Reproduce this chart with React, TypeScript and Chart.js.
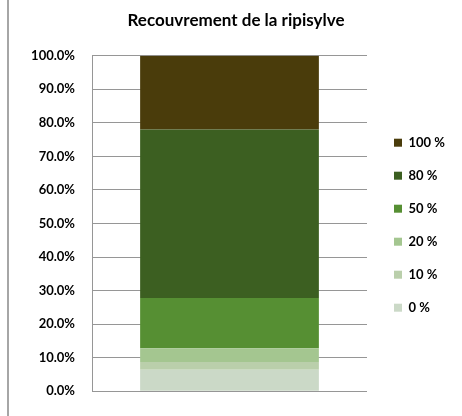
import React, { useEffect, useRef } from "react";
import { Chart, registerables } from "chart.js";

Chart.register(...registerables);

const categories = [""];
const seriesNames = ["0 %", "10 %", "20 %", "50 %", "80 %", "100 %"];
const seriesValues = [[6.4], [2.3], [4.1], [15.0], [50.2], [22.0]];
const seriesColors = ["#cbd9c7", "#bacfab", "#a4c690", "#568f33", "#3c5f21", "#4a3c0b"];
const yTicks = { min: 0, max: 100, step: 10 };
const titleText = "Recouvrement de la ripisylve";

export default function App() {
  const ref = useRef<HTMLCanvasElement>(null);
  useEffect(() => {
    if (!ref.current) return;
    Chart.defaults.font.family = "Lato";
    Chart.defaults.color = "#000";
    const chart = new Chart(ref.current, {
      type: "bar",
      data: {
        labels: categories,
        datasets: seriesNames.map((name, i) => ({
          label: name,
          data: seriesValues[i],
          backgroundColor: seriesColors[i],
          borderWidth: 0,
          categoryPercentage: 1,
          barPercentage: 0.65,
        })),
      },
      options: {
        responsive: false,
        animation: false,
        layout: { padding: { left: 20, right: 10, top: 0, bottom: 22 } },
        scales: {
          x: { stacked: true, display: false },
          y: {
            stacked: true,
            min: yTicks.min,
            max: yTicks.max,
            grid: { color: "#969696", lineWidth: 1, drawTicks: false },
            border: { display: true, color: "#969696", width: 1 },
            ticks: {
              stepSize: yTicks.step,
              padding: 17,
              color: "#000",
              font: { size: 13, weight: "bold" },
              callback: (v: any) => Number(v).toFixed(1) + "%",
            },
            afterFit: (s: any) => {
              s.width = 72;
            },
          },
          yR: {
            position: "right",
            display: true,
            grid: { display: false },
            border: { display: false },
            ticks: { display: false },
            afterFit: (s: any) => {
              s.width = 7;
            },
          },
        },
        plugins: {
          tooltip: { enabled: false },
          title: {
            display: true,
            text: titleText,
            color: "#000",
            font: { size: 17, weight: "bold" },
            padding: { top: 10, bottom: 25.3 },
          },
          legend: {
            position: "right",
            reverse: true,
            maxWidth: 78,
            title: { display: true, text: " ", font: { size: 13 }, padding: { top: 0, bottom: 40.8 } },
            labels: {
              boxWidth: 8,
              boxHeight: 8,
              padding: 20,
              color: "#000",
              font: { size: 13, weight: "bold" },
            },
          },
        },
      },
    });
    return () => chart.destroy();
  }, []);
  return (
    <div style={{ position: "fixed", left: 0, top: 0, width: 462, height: 416, background: "#fff" }}>
      <canvas ref={ref} width={462} height={416} style={{ width: 462, height: 416, display: "block" }} />
      <div style={{ position: "absolute", left: 7, top: 0, width: 2, height: 416, background: "#a6a6a6" }} />
    </div>
  );
}
